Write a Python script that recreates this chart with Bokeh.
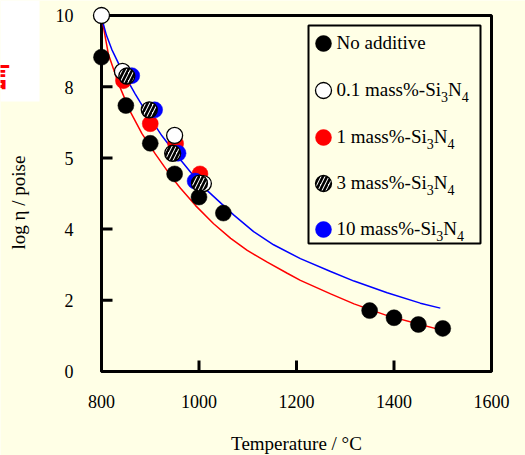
import re
import math
from bokeh.plotting import figure
from bokeh.models import Range1d, Label, BoxAnnotation
from bokeh.core.properties import value
from bokeh.embed import file_html
from bokeh.resources import INLINE

BG = "#FFFFE6"
SERIF = "Liberation Serif"

# ---------------- data ----------------
temps_none = [800, 850, 900, 950, 1000, 1050, 1350, 1400, 1450, 1500]
logeta_none = [8.83, 7.47, 6.41, 5.55, 4.90, 4.45, 1.71, 1.51, 1.32, 1.21]
temps_01 = [800, 843, 950, 1009]
logeta_01 = [10.0, 8.43, 6.63, 5.28]
temps_1 = [845, 900, 952, 1002]
logeta_1 = [8.17, 6.96, 6.40, 5.55]
temps_3 = [852, 898, 946, 1001]
logeta_3 = [8.30, 7.35, 6.13, 5.29]
temps_10 = [862, 909, 957, 992]
logeta_10 = [8.31, 7.35, 6.13, 5.35]

fit_red_t = [803, 814, 835, 859, 883, 910, 944, 962, 993, 1030, 1065, 1099, 1140, 1181,
             1208, 1270, 1318, 1386, 1454, 1490]
fit_red_v = [9.75, 8.92, 8.08, 7.30, 6.68, 6.12, 5.46, 5.15, 4.66, 4.15, 3.74, 3.40, 3.07, 2.76,
             2.56, 2.18, 1.90, 1.57, 1.32, 1.19]
fit_blue_t = [800, 810, 821, 842, 869, 893, 924, 954, 985, 1017, 1071, 1112, 1153, 1208,
              1270, 1318, 1386, 1454, 1495]
fit_blue_v = [9.95, 9.45, 9.05, 8.45, 7.80, 7.26, 6.62, 6.08, 5.56, 5.08, 4.40, 3.93, 3.56, 3.17,
              2.81, 2.54, 2.21, 1.92, 1.78]

x_ticks = [800, 1000, 1200, 1400, 1600]
x_tick_labels = ["800", "1000", "1200", "1400", "1600"]
y_ticks = [0, 2, 4, 6, 8, 10]
y_tick_labels = ["0", "2", "4", "5", "8", "10"]

legend_labels = [
    ("No additive", "", "", ""),
    ("0.1 mass%-Si", "3", "N", "4"),
    ("1 mass%-Si", "3", "N", "4"),
    ("3 mass%-Si", "3", "N", "4"),
    ("10 mass%-Si", "3", "N", "4"),
]

# ---------------- layout helpers (pixel <-> data) ----------------
W, H = 525, 455
PX0, PX1 = 101.0, 491.0   # x=800, x=1600
PY0, PY1 = 371.0, 15.0    # y=0, y=10
K = 0.36                  # baseline correction (fraction of font size)


def px2x(px):
    return 800 + (px - PX0) * 800.0 / (PX1 - PX0)


def py2y(py):
    return (PY0 - py) * 10.0 / (PY0 - PY1)


DY = 10.0 / (PY0 - PY1)   # data units per pixel (y)
DX = 800.0 / (PX1 - PX0)  # data units per pixel (x)

# the frame covers the whole canvas so that nothing is clipped
p = figure(width=W, height=H,
           x_range=Range1d(px2x(0), px2x(W)),
           y_range=Range1d(py2y(H), py2y(0)),
           x_axis_location=None, y_axis_location=None,
           output_backend="svg", toolbar_location=None,
           min_border=0, min_border_left=0, min_border_right=0,
           min_border_top=0, min_border_bottom=0,
           background_fill_color=BG, border_fill_color=BG,
           outline_line_color=None)
p.grid.visible = False

# white patch and clipped red character at top-left
p.add_layout(BoxAnnotation(left=px2x(0), right=px2x(39), top=py2y(0), bottom=py2y(101),
                           fill_color="white", fill_alpha=1, line_color=None, level="underlay"))
p.add_layout(Label(x=px2x(10), y=py2y(72), text="言", text_color="red",
                   text_font_size="30px", text_font_style="bold", text_font="Noto Sans CJK SC",
                   text_align="right", text_baseline="middle"))

# plot box
p.add_layout(BoxAnnotation(left=800, right=1600, bottom=0, top=10, fill_color=None,
                           line_color="black", line_alpha=1, line_width=3, level="underlay"))

# ticks (inward) and tick labels, placed by the scales
TICK = 11
p.segment(x0=[800] * len(y_ticks), y0=y_ticks,
          x1=[800 + TICK * DX] * len(y_ticks), y1=y_ticks,
          line_color="black", line_width=3)
p.segment(x0=x_ticks, y0=[0] * len(x_ticks),
          x1=x_ticks, y1=[TICK * DY] * len(x_ticks),
          line_color="black", line_width=3)
p.text(x=[px2x(73)] * len(y_ticks), y=[t - (6.8 - K * 18) * DY for t in y_ticks],
       text=y_tick_labels, text_font=value(SERIF), text_font_size=value("18px"),
       text_color="black", text_align="right", text_baseline="alphabetic")
p.text(x=x_ticks, y=[py2y(407.7 - K * 18)] * len(x_ticks), text=x_tick_labels,
       text_font=value(SERIF), text_font_size=value("18px"),
       text_color="black", text_align="center", text_baseline="alphabetic")

# fitted curves
p.line(fit_red_t, fit_red_v, line_color="#FF0000", line_width=1.5)
p.line(fit_blue_t, fit_blue_v, line_color="#0000FF", line_width=1.5)

SIZE = 16
styles = [
    dict(fill_color="black", line_color="black", line_width=0.5),
    dict(fill_color="white", line_color="black", line_width=1.3),
    dict(fill_color="#FF0000", line_color="#FF0000", line_width=0.5),
    dict(fill_color="white", line_color="black", line_width=1.3, hatch_pattern="/",
         hatch_color="black", hatch_weight=2.6, hatch_scale=8),
    dict(fill_color="#0000FF", line_color="#0000FF", line_width=0.5),
]

p.scatter(temps_none, logeta_none, size=SIZE, **styles[0])
p.scatter(temps_1, logeta_1, size=SIZE, **styles[2])
p.scatter(temps_01, logeta_01, size=SIZE, **styles[1])
p.scatter(temps_10, logeta_10, size=SIZE, **styles[4])
p.scatter(temps_3, logeta_3, size=SIZE, **styles[3])

# ---------------- legend (hand built for subscripts) ----------------
p.add_layout(BoxAnnotation(left=px2x(308), right=px2x(480), top=py2y(25), bottom=py2y(243),
                           fill_color=None, line_color="black", line_alpha=1, line_width=2,
                           level="underlay"))

WIDTHS = {'.': 0.25, ' ': 0.25, 'm': 0.778, 'a': 0.444, 's': 0.389, '%': 0.833,
          '-': 0.333, 'S': 0.556, 'i': 0.278, 'N': 0.722, 'o': 0.5, 'd': 0.5,
          't': 0.278, 'v': 0.5, 'e': 0.444}


def text_w(s, size):
    return sum(WIDTHS.get(c, 0.5) for c in s) * size


FS, SUB = 19, 14
row_y = [43, 90, 137, 183, 229]
for i, (main, s1, mid, s2) in enumerate(legend_labels):
    cy = row_y[i]
    p.scatter([px2x(323)], [py2y(cy)], size=SIZE, **styles[i])
    base = cy + 6.3
    x = 336.0
    p.add_layout(Label(x=px2x(x), y=py2y(base - K * FS), text=main, text_font=SERIF,
                       text_color="black", text_font_size=f"{FS}px",
                       text_baseline="alphabetic", text_align="left"))
    if s1:
        x += text_w(main, FS)
        p.add_layout(Label(x=px2x(x), y=py2y(base + 5 - K * SUB), text=s1, text_font=SERIF,
                           text_color="black", text_font_size=f"{SUB}px",
                           text_baseline="alphabetic", text_align="left"))
        x += text_w(s1, SUB)
        p.add_layout(Label(x=px2x(x), y=py2y(base - K * FS), text=mid, text_font=SERIF,
                           text_color="black", text_font_size=f"{FS}px",
                           text_baseline="alphabetic", text_align="left"))
        x += text_w(mid, FS)
        p.add_layout(Label(x=px2x(x), y=py2y(base + 5 - K * SUB), text=s2, text_font=SERIF,
                           text_color="black", text_font_size=f"{SUB}px",
                           text_baseline="alphabetic", text_align="left"))

# axis titles
p.add_layout(Label(x=px2x(296), y=py2y(450 - K * 19), text="Temperature / °C",
                   text_font=SERIF, text_color="black",
                   text_font_size="19px", text_align="center", text_baseline="alphabetic"))
p.add_layout(Label(x=px2x(26.5 - 8.5), y=py2y(202), text="log η / poise",
                   text_font=SERIF, text_color="black",
                   text_font_size="19px", text_align="center", text_baseline="alphabetic",
                   angle=math.pi / 2))

html = file_html(p, INLINE)
html = re.sub(r"<body([^>]*)>", r'<body\1 style="margin:0;background-color:#FFFFE6;">', html, count=1)
open("out.html", "w").write(html)
